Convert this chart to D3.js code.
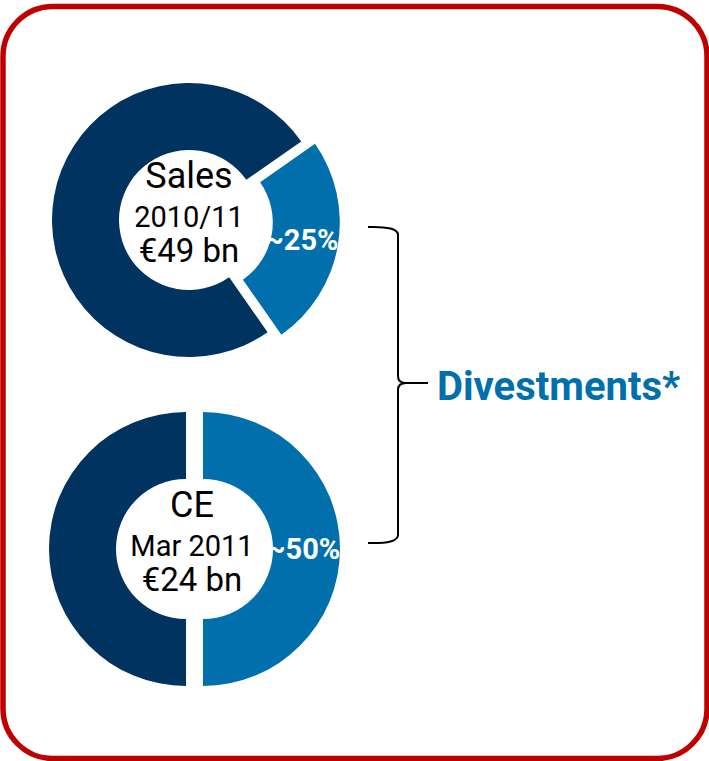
<!DOCTYPE html>
<html>
<head>
   <meta charset="UTF-8">
   <title>Divestments</title>
   <style>
       body { margin: 0; overflow: hidden; background: white; }
       svg { display: block; background: white; font-family: Roboto, "Liberation Sans", sans-serif; }
   </style>
   <script src="https://cdnjs.cloudflare.com/ajax/libs/d3/7.8.5/d3.min.js"></script>
</head>
<body>
   <div id="chart"></div>
   <script>
       // data
       const titles = ["Sales", "CE"];
       const periods = ["2010/11", "Mar 2011"];
       const totals = ["€49 bn", "€24 bn"];
       const divestShare = [25, 50];
       const shareLabels = ["~25%", "~50%"];
       const bracketLabel = "Divestments*";

       const width = 709;
       const height = 761;

       // layout for each donut
       const centers = [{x: 189, y: 220}, {x: 186, y: 549}];
       const startDeg = [55, 0];
       const explode = [14, 17];
       const outerR = 137;
       const innerR = 70;

       const dark = "#00335f";
       const light = "#006fac";

       const svg = d3.select("#chart")
           .append("svg")
           .attr("width", width)
           .attr("height", height);

       // red rounded frame
       svg.append("rect")
           .attr("x", 3)
           .attr("y", 6.5)
           .attr("width", 704)
           .attr("height", 752)
           .attr("rx", 50)
           .style("fill", "none")
           .style("stroke", "#c00000")
           .style("stroke-width", 5.5);

       const arc = d3.arc().innerRadius(innerR).outerRadius(outerR);

       titles.forEach((t, i) => {
           const start = startDeg[i] * Math.PI / 180;
           const pie = d3.pie()
               .sort(null)
               .startAngle(start)
               .endAngle(start + 2 * Math.PI);
           const slices = pie([divestShare[i], 100 - divestShare[i]]);

           const g = svg.append("g")
               .attr("transform", `translate(${centers[i].x},${centers[i].y})`);

           const offset = d => {
               if (d.index !== 0) return [0, 0];
               const mid = (d.startAngle + d.endAngle) / 2;
               return [explode[i] * Math.sin(mid), -explode[i] * Math.cos(mid)];
           };

           g.selectAll("path")
               .data(slices)
               .enter().append("path")
               .attr("d", arc)
               .attr("transform", d => `translate(${offset(d)})`)
               .style("fill", d => d.index === 0 ? light : dark);

           // share label on the divested slice
           const s = slices[0];
           const c = arc.centroid(s);
           const o = offset(s);
           g.append("text")
               .attr("x", c[0] + o[0] - 3)
               .attr("y", c[1] + o[1] + 10)
               .attr("text-anchor", "middle")
               .style("font-size", "29px")
               .style("font-weight", "bold")
               .style("fill", "white")
               .text(shareLabels[i]);

           // centre text
           const lines = [
               {text: t, dy: -32, size: 36},
               {text: periods[i], dy: 7, size: 29},
               {text: totals[i], dy: 42, size: 33}
           ];
           g.selectAll(".centre")
               .data(lines)
               .enter().append("text")
               .attr("class", "centre")
               .attr("x", i === 0 ? 0 : 6)
               .attr("y", d => d.dy)
               .attr("text-anchor", "middle")
               .style("font-size", d => d.size + "px")
               .style("fill", "#000")
               .text(d => d.text);
       });

       // curly bracket
       const bx0 = 368, bx1 = 398, tipX = 428;
       const bTop = 227, bMid = 383, bBot = 543;
       const p = d3.path();
       p.moveTo(bx0, bTop);
       p.quadraticCurveTo(bx1, bTop - 1, bx1, bTop + 8);
       p.lineTo(bx1, bMid - 7);
       p.quadraticCurveTo(bx1, bMid, tipX - 22, bMid);
       p.lineTo(tipX, bMid);
       p.moveTo(tipX - 22, bMid);
       p.quadraticCurveTo(bx1, bMid, bx1, bMid + 7);
       p.lineTo(bx1, bBot - 8);
       p.quadraticCurveTo(bx1, bBot + 1, bx0, bBot);
       svg.append("path")
           .attr("d", p.toString())
           .style("fill", "none")
           .style("stroke", "#000")
           .style("stroke-width", 2);

       svg.append("text")
           .attr("x", 437)
           .attr("y", 400)
           .style("font-size", "40px")
           .style("font-weight", "bold")
           .style("fill", "#0070ad")
           .text(bracketLabel);
   </script>
</body>
</html>
